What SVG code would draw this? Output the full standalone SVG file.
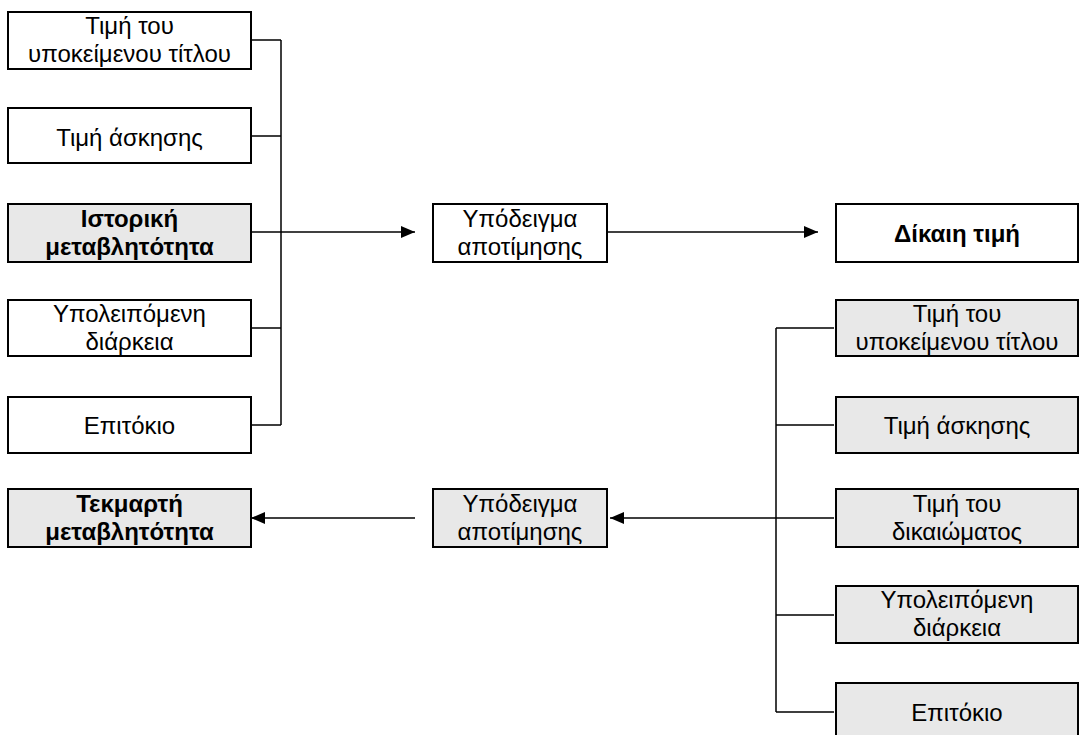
<svg xmlns="http://www.w3.org/2000/svg" width="1086" height="735" viewBox="0 0 1086 735">
<style>
.box{fill:#fff;stroke:#000;stroke-width:2}
.g{fill:#e8e8e8}
text{font-family:"Liberation Sans",Arial,sans-serif;font-size:24px;text-anchor:middle;fill:#000}
.b{font-weight:bold}
.c{fill:none;stroke:#000;stroke-width:1.5}
</style>
<defs>
<marker id="ah" markerWidth="14" markerHeight="12" refX="14" refY="6" orient="auto" markerUnits="userSpaceOnUse">
<path d="M0,0 L14,6 L0,12 Z" fill="#000"/>
</marker>
</defs>
<g id="connectors">
<path class="c" d="M242,40 H281 M242,136 H281 M242,328 H281 M242,425 H281 M281,40 V425"/>
<path class="c" d="M242,232 H415" marker-end="url(#ah)"/>
<path class="c" d="M596,232 H818" marker-end="url(#ah)"/>
<path class="c" d="M776,328 V712 M776,328 H834 M776,425 H834 M776,518 H834 M776,615 H834 M776,712 H834"/>
<path class="c" d="M776,518 H610" marker-end="url(#ah)"/>
<path class="c" d="M415,518 H251" marker-end="url(#ah)"/>
</g>
<g id="l1"><rect class="box" x="8" y="12" width="243" height="57"/><text x="129.5" y="34">Τιμή του</text><text x="129.5" y="62">υποκείμενου τίτλου</text></g>
<g id="l2"><rect class="box" x="8" y="108" width="243" height="55"/><text x="129.5" y="146">Τιμή άσκησης</text></g>
<g id="l3"><rect class="box g" x="8" y="204" width="243" height="58"/><text class="b" x="129.5" y="227">Ιστορική</text><text class="b" x="129.5" y="255">μεταβλητότητα</text></g>
<g id="l4"><rect class="box" x="8" y="300" width="243" height="56"/><text x="129.5" y="322">Υπολειπόμενη</text><text x="129.5" y="350">διάρκεια</text></g>
<g id="l5"><rect class="box" x="8" y="397" width="243" height="56"/><text x="129.5" y="434">Επιτόκιο</text></g>
<g id="l6"><rect class="box g" x="8" y="489" width="243" height="58"/><text class="b" x="129.5" y="512">Τεκμαρτή</text><text class="b" x="129.5" y="540">μεταβλητότητα</text></g>
<g id="m1"><rect class="box" x="433" y="204" width="174" height="58"/><text x="520" y="227">Υπόδειγμα</text><text x="520" y="255">αποτίμησης</text></g>
<g id="m2"><rect class="box g" x="433" y="489" width="174" height="58"/><text x="520" y="512">Υπόδειγμα</text><text x="520" y="540">αποτίμησης</text></g>
<g id="r0"><rect class="box" x="836" y="204" width="242" height="58"/><text class="b" x="957" y="242">Δίκαιη τιμή</text></g>
<g id="r1"><rect class="box g" x="836" y="300" width="242" height="56"/><text x="957" y="322">Τιμή του</text><text x="957" y="350">υποκείμενου τίτλου</text></g>
<g id="r2"><rect class="box g" x="836" y="397" width="242" height="56"/><text x="957" y="434">Τιμή άσκησης</text></g>
<g id="r3"><rect class="box g" x="836" y="489" width="242" height="58"/><text x="957" y="512">Τιμή του</text><text x="957" y="540">δικαιώματος</text></g>
<g id="r4"><rect class="box g" x="836" y="586" width="242" height="57"/><text x="957" y="608">Υπολειπόμενη</text><text x="957" y="636">διάρκεια</text></g>
<g id="r5"><rect class="box g" x="836" y="683" width="242" height="60"/><text x="957" y="721">Επιτόκιο</text></g>
</svg>
